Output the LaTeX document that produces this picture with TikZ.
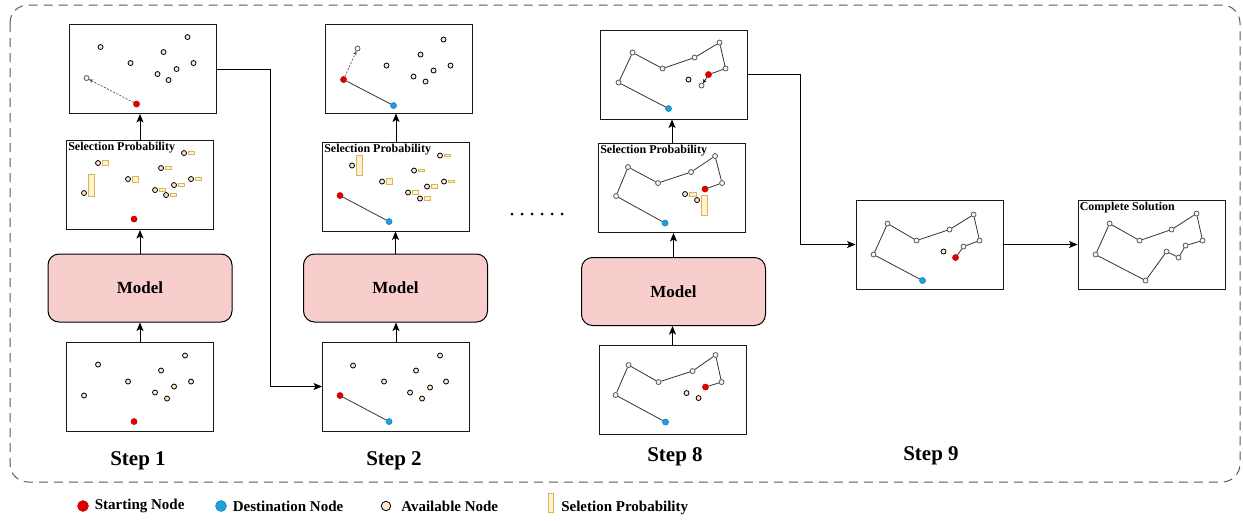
\documentclass[tikz,border=0pt]{standalone}
\usepackage{fontspec}
\setmainfont{Liberation Serif}
\usetikzlibrary{positioning,arrows.meta}

\definecolor{availfill}{HTML}{FFE6CC}
\definecolor{seenfill}{HTML}{F5F5F5}
\definecolor{startred}{HTML}{E00000}
\definecolor{destblue}{HTML}{1BA1E2}
\definecolor{probfill}{HTML}{FFF2CC}
\definecolor{probdraw}{HTML}{D6B656}
\definecolor{modelfill}{HTML}{F8CECC}

\tikzset{
  box/.style = {draw=black!90, line width=0.9pt, minimum width=147pt, minimum height=89pt, inner sep=0pt},
  model/.style = {draw, line width=1pt, fill=modelfill, rounded corners=11pt, minimum width=184pt, minimum height=68pt, font=\fontsize{17}{20}\selectfont\bfseries},
  availnode/.style = {circle, draw, fill=availfill, line width=0.8pt, minimum size=5pt, inner sep=0pt},
  seennode/.style = {circle, draw=black!65, fill=seenfill, line width=0.8pt, minimum size=5pt, inner sep=0pt},
  startnode/.style = {circle, fill=startred, draw=startred!80!black, line width=0.4pt, minimum size=6.2pt, inner sep=0pt},
  destnode/.style = {circle, fill=destblue, draw=destblue!70!black, line width=0.4pt, minimum size=6.2pt, inner sep=0pt},
  prob/.style = {draw=probdraw, fill=probfill, line width=0.7pt, minimum width=5.5pt, inner sep=0pt},
  arr/.style = {line width=1pt, -{Stealth[length=8.5pt, width=7pt, inset=2pt]}},
  tour/.style = {draw=black!80, line width=0.8pt},
  pick/.style = {black!75, line width=0.6pt, dash pattern=on 2pt off 1.5pt, -{Stealth[length=4pt, width=3.5pt]}},
  title/.style = {anchor=north west, inner sep=2pt, font=\fontsize{12}{14}\selectfont\bfseries},
  steplabel/.style = {font=\fontsize{21}{25}\selectfont\bfseries},
  legendtext/.style = {font=\fontsize{15}{18}\selectfont\bfseries, inner sep=0pt}
}

\begin{document}
\begin{tikzpicture}[x=1pt, y=-1pt]
\useasboundingbox (0,0) rectangle (1243,520);
\draw[black!65, line width=1pt, dash pattern=on 9pt off 6pt, rounded corners=18pt] (10,5) rectangle (1240,482);

% step 1
\node[box] (t1) at (142.5,69) {};
\node[box] (s1) at (140,185) {};
\node[model] (m1) at (140,288) {Model};
\node[box] (b1) at (140,386.5) {};
\node[steplabel] (l1) at (138,461) {Step 1};
\node[title] (s1t) at (s1.north west) {Selection Probability};

\begin{scope}[shift={(t1.north west)}]
  \foreach \n/\x/\y/\s in {1/32/23/availnode, 2/119/13/availnode, 3/95/28/availnode, 4/62/39/availnode, 5/125/39/availnode, 6/108/45/availnode, 7/89/50/availnode, 8/100/56/availnode, 9/18/54/seennode, 0/68/80/startnode}
    \node[\s] (t1p\n) at (\x,\y) {};
\end{scope}
\begin{scope}[shift={(s1.north west)}]
  \foreach \n/\x/\y/\s in {1/32/23/availnode, 2/118/13/availnode, 3/95/28/availnode, 4/62/39/availnode, 5/125/39/availnode, 6/108/45/availnode, 7/89/50/availnode, 8/100/55/availnode, 9/18/53/availnode, 0/68/79/startnode}
    \node[\s] (s1p\n) at (\x,\y) {};
\end{scope}
\begin{scope}[shift={(b1.north west)}]
  \foreach \n/\x/\y/\s in {1/32/23/availnode, 2/119/14/availnode, 3/95/29/availnode, 4/62/40/availnode, 5/125/40/availnode, 6/108/45/availnode, 7/89/51/availnode, 8/101/57/availnode, 9/18/54/availnode, 0/68/80/startnode}
    \node[\s] (b1p\n) at (\x,\y) {};
\end{scope}
\foreach \n/\h in {1/5.5, 2/2.5, 3/3, 4/6, 5/2.5, 6/3, 7/3.5, 8/3}
  \node[prob, minimum height=\h pt, right=1.5pt of s1p\n] (s1b\n) {};
\node[prob, minimum height=22pt, right=1.5pt of s1p9, yshift=8pt] (s1b9) {};
\draw[pick] (t1p0) -- (t1p9);

% step 2
\node[box] (t2) at (398.5,68.5) {};
\node[box] (s2) at (396,186.5) {};
\node[model] (m2) at (395.5,288) {Model};
\node[box] (b2) at (396,386.5) {};
\node[steplabel] (l2) at (394,461) {Step 2};
\node[title] (s2t) at (s2.north west) {Selection Probability};

\begin{scope}[shift={(t2.north west)}]
  \foreach \n/\x/\y/\s in {1/33/25/seennode, 2/119/16/availnode, 3/96/31/availnode, 4/62/42/availnode, 5/126/42/availnode, 6/109/47/availnode, 7/89/53/availnode, 8/101/58/availnode, 9/19/56/startnode, 0/69/82/destnode}
    \node[\s] (t2p\n) at (\x,\y) {};
\end{scope}
\begin{scope}[shift={(s2.north west)}]
  \foreach \n/\x/\y/\s in {1/30/24/availnode, 2/118/14/availnode, 3/92/29/availnode, 4/60/40/availnode, 5/122/40/availnode, 6/105/45/availnode, 7/86/51/availnode, 8/98/57/availnode, 9/18/54/startnode, 0/67/80/destnode}
    \node[\s] (s2p\n) at (\x,\y) {};
\end{scope}
\begin{scope}[shift={(b2.north west)}]
  \foreach \n/\x/\y/\s in {1/31/24/availnode, 2/118/14/availnode, 3/94/29/availnode, 4/62/40/availnode, 5/124/40/availnode, 6/108/46/availnode, 7/88/51/availnode, 8/100/57/availnode, 9/18/54/startnode, 0/67/80/destnode}
    \node[\s] (b2p\n) at (\x,\y) {};
\end{scope}
\foreach \n/\h in {1/20, 2/2.5, 3/2.5, 4/6, 5/2.5, 6/3.5, 7/4, 8/3.5}
  \node[prob, minimum height=\h pt, right=1.5pt of s2p\n] (s2b\n) {};
\draw[tour] (t2p9) -- (t2p0);
\draw[tour] (s2p9) -- (s2p0);
\draw[tour] (b2p9) -- (b2p0);
\draw[pick] (t2p9) -- (t2p1);

% dots
\foreach \i in {0,...,5}
  \fill (512+10*\i,214) circle (1.5pt);

% step 8
\node[box] (t8) at (673.5,74.5) {};
\node[box] (s8) at (672,188) {};
\node[model] (m8) at (673.5,291.5) {Model};
\node[box] (b8) at (672.5,390) {};
\node[steplabel] (l8) at (675,457) {Step 8};
\node[title] (s8t) at (s8.north west) {Selection Probability};

\begin{scope}[shift={(t8.north west)}]
  \foreach \n/\x/\y/\s in {1/33/23/seennode, 2/120/13/seennode, 3/95/28/seennode, 4/63/39/seennode, 5/126/39/seennode, 6/109/45/startnode, 7/89/50/availnode, 8/102/56/seennode, 9/19/53/seennode, 0/69/79/destnode}
    \node[\s] (t8p\n) at (\x,\y) {};
\end{scope}
\begin{scope}[shift={(s8.north west)}]
  \foreach \n/\x/\y/\s in {1/30/24/seennode, 2/117/13/seennode, 3/93/29/seennode, 4/60/40/seennode, 5/124/40/seennode, 6/107/46/startnode, 7/87/51/availnode, 8/99/57/availnode, 9/18/53/seennode, 0/67/80/destnode}
    \node[\s] (s8p\n) at (\x,\y) {};
\end{scope}
\begin{scope}[shift={(b8.north west)}]
  \foreach \n/\x/\y/\s in {1/30/20/seennode, 2/117/10/seennode, 3/94/26/seennode, 4/60/37/seennode, 5/123/37/seennode, 6/107/42/startnode, 7/88/48/availnode, 8/100/53/availnode, 9/17/50/seennode, 0/67/77/destnode}
    \node[\s] (b8p\n) at (\x,\y) {};
\end{scope}
\node[prob, minimum height=4pt, minimum width=6.5pt, right=1.5pt of s8p7] (s8b7) {};
\node[prob, minimum height=20pt, right=1.5pt of s8p8, yshift=-5pt] (s8b8) {};
\foreach \b in {t8, s8, b8}
  \draw[tour] (\b p0) -- (\b p9) -- (\b p1) -- (\b p4) -- (\b p3) -- (\b p2) -- (\b p5) -- (\b p6);
\draw[black, line width=0.6pt, -{Stealth[length=4pt, width=4pt]}] (t8p6) -- (t8p8);

% step 9 and complete solution
\node[box] (n9) at (929.5,244.5) {};
\node[box] (cs) at (1151.5,244.5) {};
\node[steplabel] (l9) at (931,456) {Step 9};
\node[title] (cst) at (cs.north west) {Complete Solution};

\begin{scope}[shift={(n9.north west)}]
  \foreach \n/\x/\y/\s in {1/32/24/seennode, 2/118/15/seennode, 3/94/30/seennode, 4/61/41/seennode, 5/124/41/seennode, 6/108/47/seennode, 7/88/52/availnode, 8/100/58/startnode, 9/18/55/seennode, 0/67/81/destnode}
    \node[\s] (n9p\n) at (\x,\y) {};
\end{scope}
\begin{scope}[shift={(cs.north west)}]
  \foreach \n/\x/\y in {1/32/24, 2/119/14, 3/94/30, 4/62/41, 5/125/41, 6/108/46, 7/89/52, 8/101/58, 9/18/55, 0/68/81}
    \node[seennode] (csp\n) at (\x,\y) {};
\end{scope}
\draw[tour] (n9p0) -- (n9p9) -- (n9p1) -- (n9p4) -- (n9p3) -- (n9p2) -- (n9p5) -- (n9p6) -- (n9p8);
\draw[tour] (csp0) -- (csp9) -- (csp1) -- (csp4) -- (csp3) -- (csp2) -- (csp5) -- (csp6) -- (csp8) -- (csp7) -- (csp0);

% arrows
\foreach \c in {1, 2, 8} {
  \draw[arr] (b\c.north) -- (b\c.north |- m\c.south);
  \draw[arr] (m\c.north) -- (m\c.north |- s\c.south);
  \draw[arr] (s\c.north) -- (s\c.north |- t\c.south);
}
\coordinate (k1) at (270,69);
\draw[arr] (t1.east) -- (k1) |- (b2.west);
\coordinate (k8) at (800,74.5);
\draw[arr] (t8.east) -- (k8) |- (n9.west);
\draw[arr] (n9) -- (cs);

% legend
\node[startnode, minimum size=11pt] (ks) at (83,506) {};
\node[legendtext, right=6pt of ks] (kst) {Starting Node};
\node[destnode, minimum size=11pt] (kd) at (221,506) {};
\node[legendtext, right=6pt of kd] (kdt) {Destination Node};
\node[availnode, minimum size=9.5pt] (ka) at (386,506) {};
\node[legendtext, right=10pt of ka] (kat) {Available Node};
\node[prob, minimum height=19pt] (kp) at (551,503) {};
\node[legendtext, right=7pt of kp, yshift=-5pt] (kpt) {Seletion Probability};
\end{tikzpicture}
\end{document}
